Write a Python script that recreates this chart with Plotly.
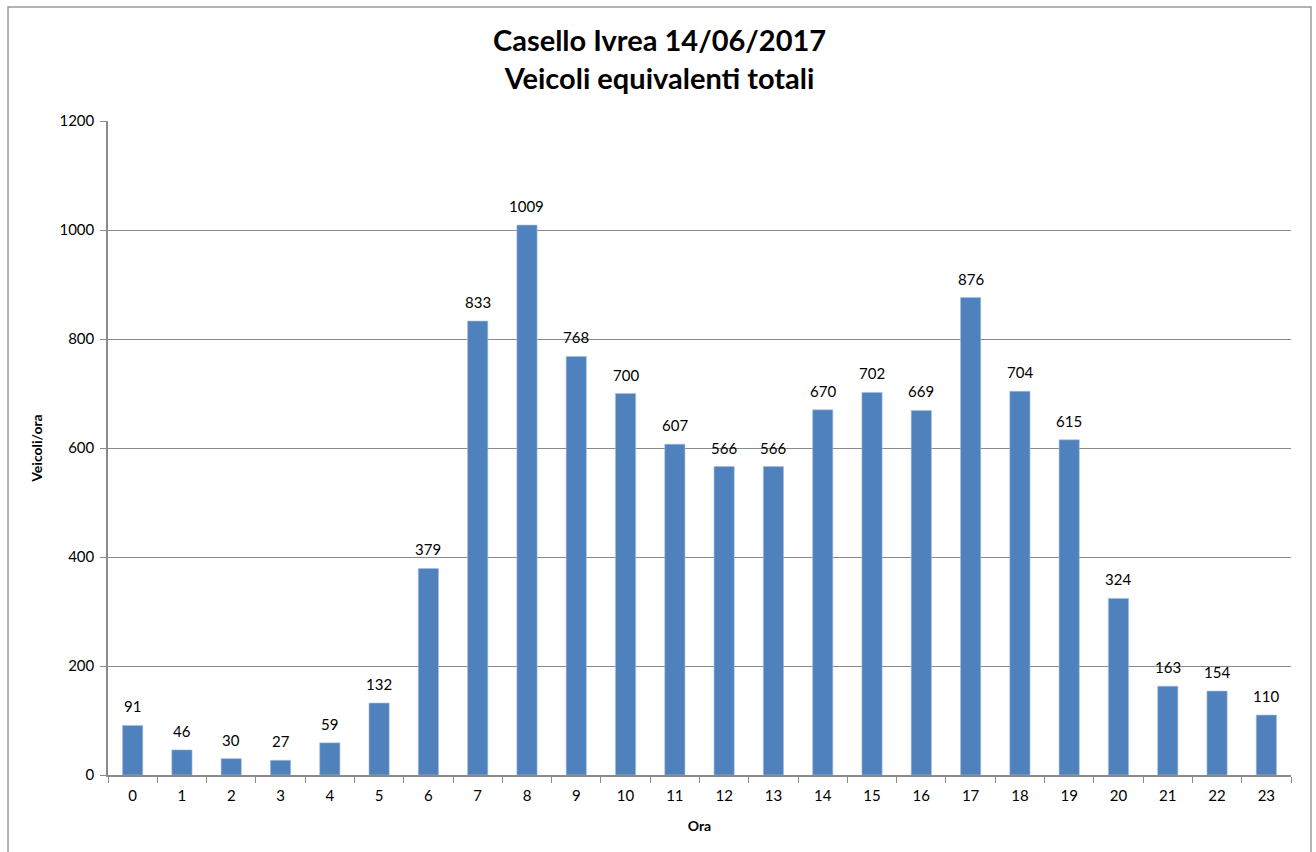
import plotly.graph_objects as go

# Hourly equivalent vehicles at the Ivrea toll booth
hours = [str(h) for h in range(24)]
vehicles = [91, 46, 30, 27, 59, 132, 379, 833, 1009, 768, 700, 607,
            566, 566, 670, 702, 669, 876, 704, 615, 324, 163, 154, 110]

FONT = "Lato, 'Open Sans', 'Liberation Sans', sans-serif"
GRID = "#8a8a8a"

fig = go.Figure(
    go.Bar(
        x=hours,
        y=vehicles,
        width=0.41,
        marker=dict(color="#4f81bd", line=dict(color="#a7bfdc", width=0.6)),
        cliponaxis=False,
    )
)

# Value labels sitting a little above each bar
value_labels = [
    dict(
        x=h, y=v, xref="x", yref="y",
        text=str(v),
        showarrow=False,
        yanchor="bottom",
        yshift=8,
        font=dict(size=15, color="#000000", family=FONT),
    )
    for h, v in zip(hours, vehicles)
]

fig.update_layout(
    width=1316,
    height=852,
    margin=dict(l=108, r=25, t=121, b=77),
    paper_bgcolor="white",
    plot_bgcolor="white",
    showlegend=False,
    font=dict(family=FONT, color="#000000"),
    xaxis=dict(
        type="category",
        showline=True,
        linecolor=GRID,
        linewidth=1.5,
        ticks="outside",
        tickson="boundaries",
        ticklen=6,
        tickcolor=GRID,
        tickfont=dict(size=15),
        ticklabelstandoff=6,
        showgrid=False,
        title=dict(text="<b>Ora</b>", font=dict(size=14), standoff=18),
    ),
    yaxis=dict(
        range=[0, 1200],
        dtick=200,
        showline=True,
        linecolor=GRID,
        linewidth=1.5,
        ticks="outside",
        ticklen=6,
        tickcolor=GRID,
        tickfont=dict(size=15),
        ticklabelstandoff=3,
        showgrid=True,
        gridcolor=GRID,
        gridwidth=1,
        zeroline=False,
        title=dict(text="<b>Veicoli/ora</b>", font=dict(size=14), standoff=14),
    ),
    annotations=[
        dict(
            text="<b>Casello Ivrea 14/06/2017<br>Veicoli equivalenti totali</b>",
            xref="paper",
            yref="paper",
            x=0.4666,
            y=1.095,
            xanchor="center",
            yanchor="middle",
            showarrow=False,
            font=dict(size=29, family=FONT, color="#000000"),
        )
    ] + value_labels,
    shapes=[
        dict(
            type="rect",
            xref="paper",
            yref="paper",
            x0=-0.0845,
            x1=1.0169,
            y0=-0.2,
            y1=1.1743,
            line=dict(color="#9a9a9a", width=1.5),
            fillcolor="rgba(0,0,0,0)",
            layer="below",
        )
    ],
)

fig.write_html("out.html")
